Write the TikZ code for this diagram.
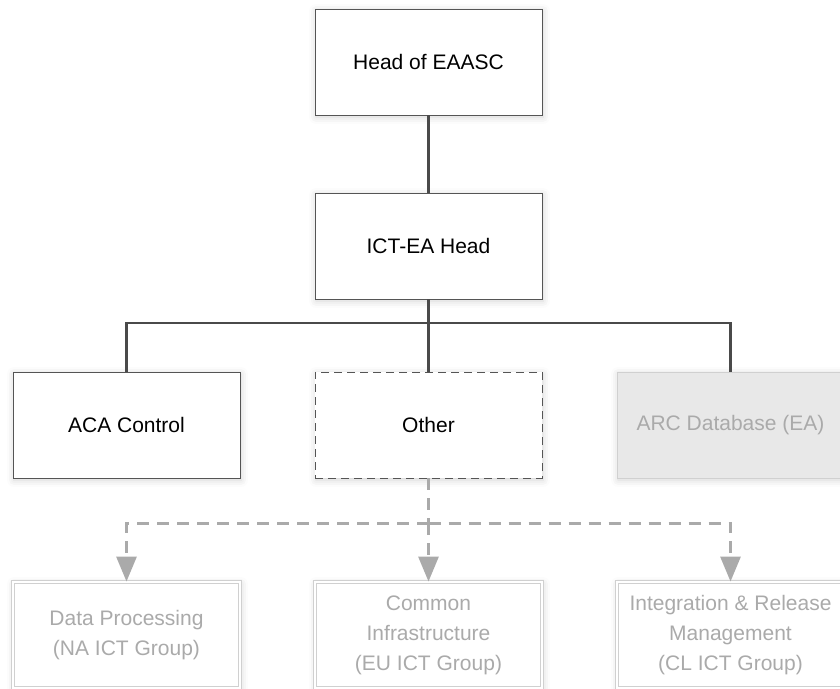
\documentclass[tikz,border=0pt]{standalone}
\usepackage{fontspec}
\setmainfont{Liberation Sans}
\usetikzlibrary{arrows.meta,shadows.blur}

\definecolor{edgegray}{HTML}{555555}
\definecolor{linegray}{HTML}{4A4A4A}
\definecolor{fadegray}{HTML}{AAAAAA}
\definecolor{panelgray}{HTML}{E8E8E8}
\definecolor{framegray}{HTML}{D0D0D0}

\tikzset{
  unit/.style={rectangle, minimum width=227pt, minimum height=106pt,
    inner sep=0pt, align=center, font=\fontsize{21}{30}\selectfont,
    fill=white, draw=edgegray, line width=0.8pt,
    blur shadow={shadow xshift=1pt, shadow yshift=-2pt,
      shadow opacity=18, shadow blur radius=7pt}},
  pending/.style={unit, dash pattern=on 8pt off 5pt},
  inactive/.style={unit, fill=panelgray, draw=framegray, text=fadegray},
  group/.style={unit, draw=framegray, double=white, double distance=2.2pt,
    line width=0.9pt, text=fadegray},
  conn/.style={draw=linegray, line width=2.4pt},
  dconn/.style={draw=fadegray, line width=3pt, dash pattern=on 12pt off 8pt},
  tip/.style={-{Triangle[width=20pt,length=25pt]}}
}

\begin{document}
\begin{tikzpicture}[x=1pt,y=-1pt]
  \useasboundingbox (0,0) rectangle (840,688);
  \clip (0,0) rectangle (840,688);

  % reporting chain
  \node[unit] (head) at (428.5,62) {Head of EAASC};
  \node[unit] (ict)  at (428.5,246) {ICT-EA Head};

  % units under ICT-EA
  \node[unit]     (aca)   at (126.5,425) {ACA Control};
  \node[pending]  (other) at (428.5,425) {Other};
  \node[inactive] (arc)   at (730.5,425) {ARC Database (EA)};

  % groups
  \node[group] (dp) at (126.5,635) {Data Processing\\(NA ICT Group)};
  \node[group] (ci) at (428.5,635) {Common\\Infrastructure\\(EU ICT Group)};
  \node[group] (ir) at (730.5,635) {Integration \& Release\\Management\\(CL ICT Group)};

  % solid hierarchy lines
  \coordinate (bus) at (428.5,323);
  \draw[conn] (head.south) -- (ict.north);
  \draw[conn] (ict.south) -- (bus);
  \draw[conn] (aca.north) |- (bus) -| (arc.north);
  \draw[conn] (bus) -- (other.north);

  % dashed links to the groups
  \coordinate (split) at (428.5,523);
  \draw[dconn] (other.south) -- (split);
  \draw[dconn,tip] (split) -| (dp.north);
  \draw[dconn,tip] (split) -- (ci.north);
  \draw[dconn,tip] (split) -| (ir.north);
\end{tikzpicture}
\end{document}
